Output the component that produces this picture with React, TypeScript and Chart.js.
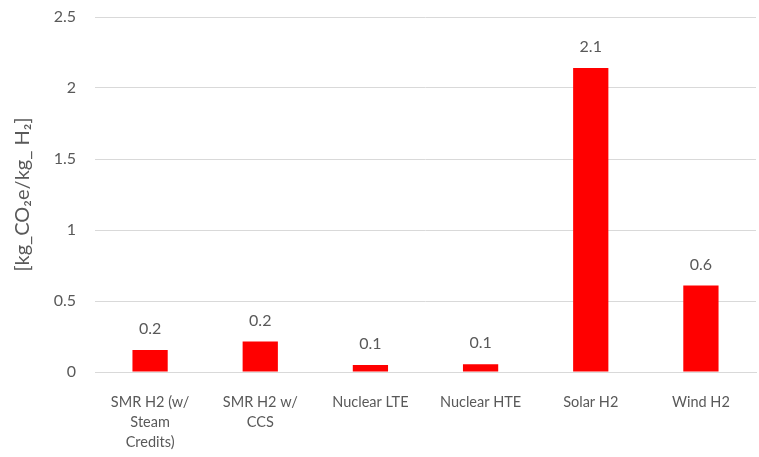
import React, { useEffect, useRef } from "react";
import { Chart, registerables, Plugin } from "chart.js";

Chart.register(...registerables);

// Life-cycle emissions of hydrogen production pathways
const categories: (string | string[])[] = [
  ["SMR H2 (w/", "Steam", "Credits)"],
  ["SMR H2 w/", "CCS"],
  "Nuclear LTE",
  "Nuclear HTE",
  "Solar H2",
  "Wind H2",
];
const emissions = [0.155, 0.215, 0.05, 0.055, 2.14, 0.61];
const yTicks = [0, 0.5, 1, 1.5, 2, 2.5];

const FONT = "Lato, 'Open Sans', sans-serif";
const TEXT = "#595959";

const formatLabel = (v: number) => (Math.round(v * 10) / 10).toString();

// Value labels drawn above each bar
const valueLabels: Plugin<"bar"> = {
  id: "valueLabels",
  afterDatasetsDraw(chart) {
    const ctx = chart.ctx;
    const meta = chart.getDatasetMeta(0);
    ctx.save();
    ctx.font = `16px ${FONT}`;
    ctx.fillStyle = TEXT;
    ctx.textAlign = "center";
    ctx.textBaseline = "middle";
    meta.data.forEach((el: any, i: number) => {
      const v = chart.data.datasets[0].data[i] as number;
      ctx.fillText(formatLabel(v), el.x, el.y - 21);
    });
    ctx.restore();
  },
};

export default function App() {
  const ref = useRef<HTMLCanvasElement | null>(null);

  useEffect(() => {
    if (!ref.current) return;
    const chart = new Chart(ref.current, {
      type: "bar",
      data: {
        labels: categories,
        datasets: [
          {
            data: emissions,
            backgroundColor: "#FF0000",
            barPercentage: 0.64,
            categoryPercentage: 0.5,
          },
        ],
      },
      options: {
        animation: false,
        responsive: false,
        layout: { padding: { top: 17, right: 3, left: 11, bottom: 0 } },
        plugins: { legend: { display: false }, tooltip: { enabled: false } },
        scales: {
          x: {
            grid: { display: false },
            border: { color: "#d9d9d9" },
            ticks: {
              color: TEXT,
              font: { family: FONT, size: 14.5, lineHeight: 1.4 },
              padding: 12,
              maxRotation: 0,
              autoSkip: false,
            },
            afterFit(scale: any) {
              scale.height = 85;
              scale.paddingLeft = 0;
              scale.paddingRight = 0;
            },
          },
          y: {
            min: 0,
            max: 2.5,
            afterBuildTicks(scale: any) {
              scale.ticks = yTicks.map((v) => ({ value: v }));
            },
            grid: { color: "#d9d9d9", drawTicks: false },
            border: { display: false },
            ticks: {
              color: TEXT,
              font: { family: FONT, size: 16 },
              padding: 19,
              callback: (v: any) => String(v),
            },
            title: {
              display: true,
              text: "[kg_CO₂e/kg_ H₂]",
              color: TEXT,
              font: { family: FONT, size: 20 },
              padding: { top: 0, bottom: 0 },
            },
            afterFit(scale: any) {
              scale.width = 84;
              scale.paddingTop = 0;
              scale.paddingBottom = 0;
            },
          },
        },
      },
      plugins: [valueLabels],
    });
    return () => chart.destroy();
  }, []);

  return (
    <div style={{ position: "fixed", left: 0, top: 0, width: 759, height: 457, background: "#fff" }}>
      <canvas ref={ref} width={759} height={457} />
    </div>
  );
}
